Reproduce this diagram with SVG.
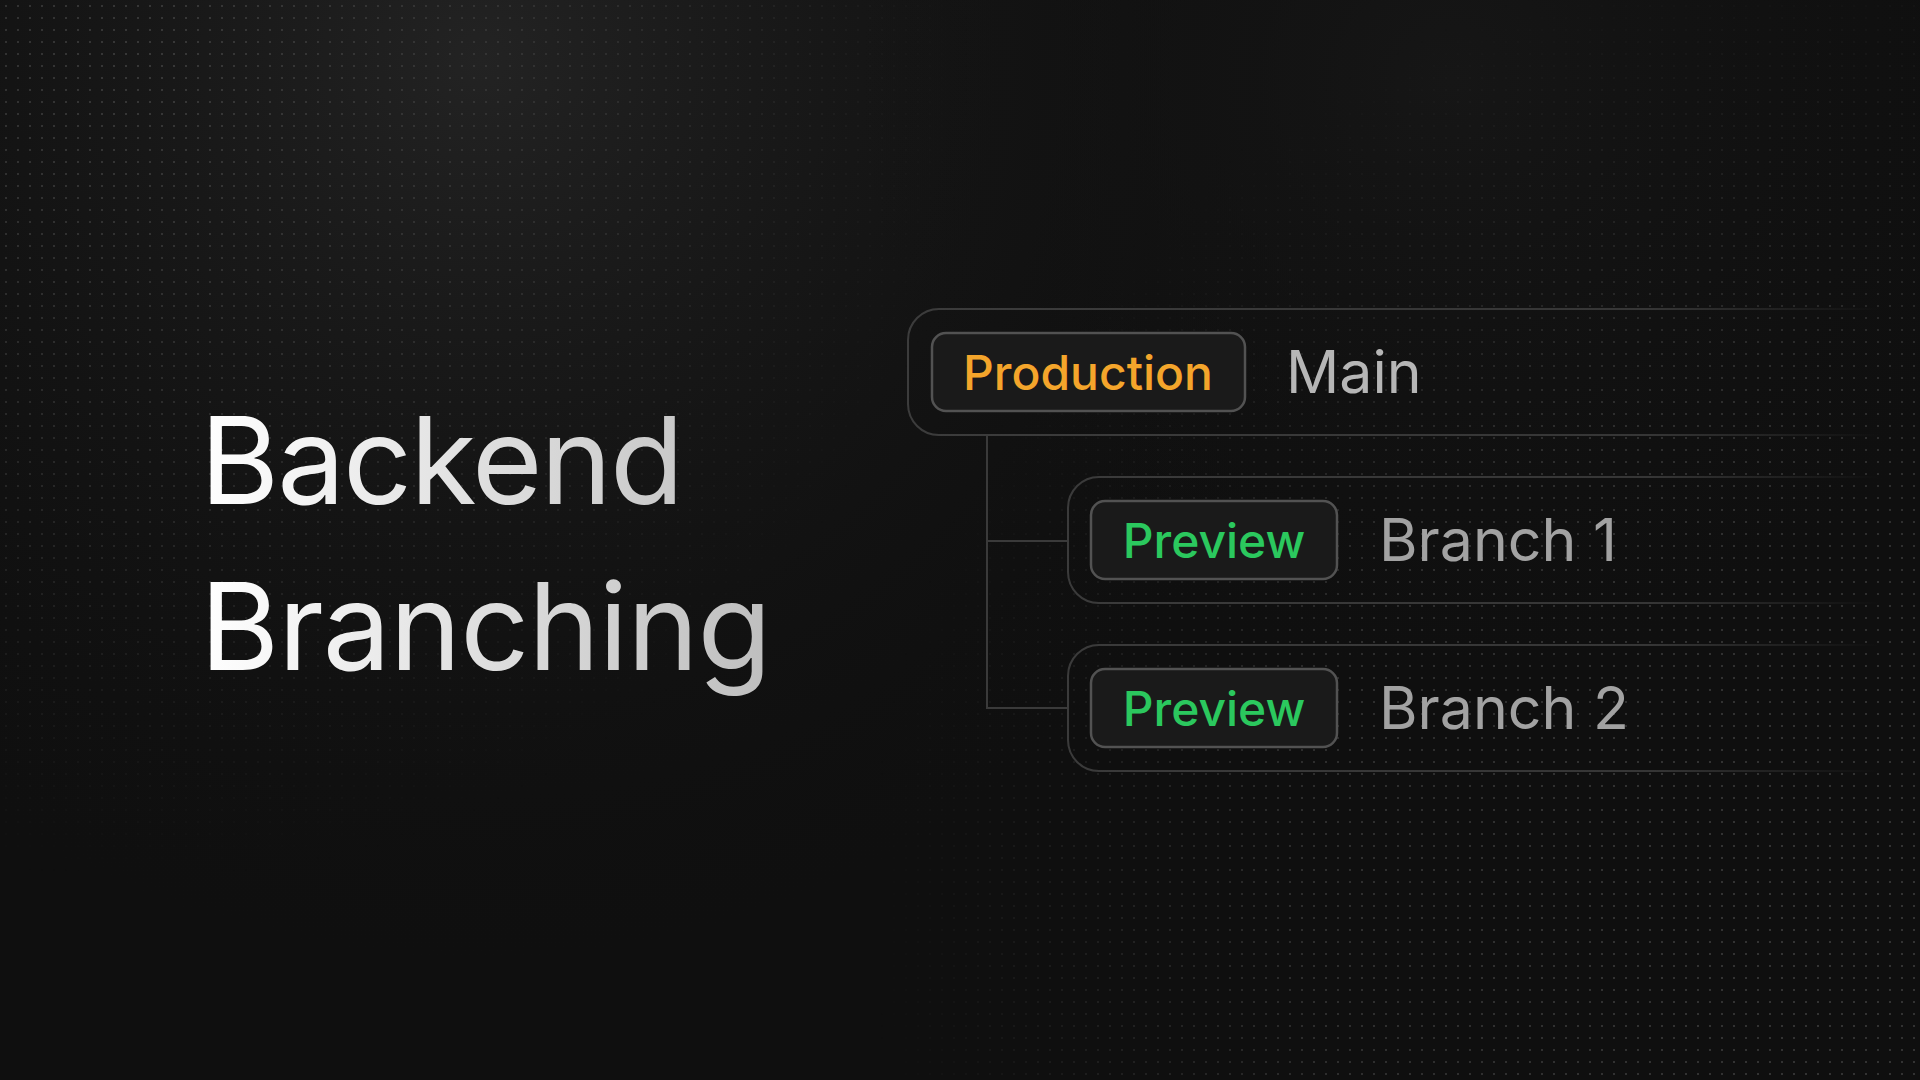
<svg xmlns="http://www.w3.org/2000/svg" width="1920" height="1080" viewBox="0 0 1920 1080">
  <style>
    .ui { font-family: Inter, "Noto Sans", "Liberation Sans", sans-serif; }
    .title { font-size: 121px; font-weight: 400; fill: url(#titleGrad); }
    .t1 { letter-spacing: -2px; }
    .t2 { letter-spacing: -1px; }
    .tag { font-size: 48px; font-weight: 500; text-anchor: middle; }
    .prod { fill: #f4a52b; }
    .prev { fill: #2bc85e; }
    .name { font-size: 59px; font-weight: 400; }
    .main { fill: #b6b6b6; }
    .branch { fill: #a2a2a2; }
    .pill { fill: #1a1a1a; stroke: #525252; stroke-width: 2.5; }
    .frame { fill: none; stroke: url(#lineFade); stroke-width: 2; }
    .conn { fill: none; stroke: #3a3a3a; stroke-width: 2; }
  </style>
  <defs>
    <radialGradient id="glow" cx="480" cy="60" r="900" gradientUnits="userSpaceOnUse">
      <stop offset="0" stop-color="#232323" stop-opacity="1"/>
      <stop offset="0.5" stop-color="#181818" stop-opacity="0.6"/>
      <stop offset="1" stop-color="#111111" stop-opacity="0"/>
    </radialGradient>
    <radialGradient id="glow2" cx="1450" cy="80" r="600" gradientUnits="userSpaceOnUse">
      <stop offset="0" stop-color="#161616" stop-opacity="1"/>
      <stop offset="1" stop-color="#111111" stop-opacity="0"/>
    </radialGradient>
    <linearGradient id="titleGrad" x1="200" y1="0" x2="780" y2="0" gradientUnits="userSpaceOnUse">
      <stop offset="0" stop-color="#ffffff"/>
      <stop offset="1" stop-color="#bdbdbd"/>
    </linearGradient>
    <linearGradient id="lineFade" x1="900" y1="0" x2="1900" y2="0" gradientUnits="userSpaceOnUse">
      <stop offset="0" stop-color="#3c3c3c"/>
      <stop offset="0.75" stop-color="#363636"/>
      <stop offset="0.98" stop-color="#363636" stop-opacity="0"/>
    </linearGradient>
    <pattern id="dots" x="0" y="0" width="12" height="12" patternUnits="userSpaceOnUse">
      <rect x="5.2" y="5.2" width="1.6" height="1.6" fill="#4a4a4a"/>
    </pattern>
    <radialGradient id="mTL" cx="150" cy="60" r="820" gradientUnits="userSpaceOnUse">
      <stop offset="0" stop-color="#fff" stop-opacity="1"/>
      <stop offset="0.6" stop-color="#fff" stop-opacity="0.55"/>
      <stop offset="1" stop-color="#fff" stop-opacity="0"/>
    </radialGradient>
    <radialGradient id="mBR" cx="1820" cy="900" r="950" gradientUnits="userSpaceOnUse">
      <stop offset="0" stop-color="#fff" stop-opacity="1"/>
      <stop offset="0.55" stop-color="#fff" stop-opacity="0.8"/>
      <stop offset="1" stop-color="#fff" stop-opacity="0"/>
    </radialGradient>
    <mask id="dotMask" maskUnits="userSpaceOnUse" x="0" y="0" width="1920" height="1080">
      <rect width="1920" height="1080" fill="#000"/>
      <rect width="1920" height="1080" fill="url(#mTL)"/>
      <rect width="1920" height="1080" fill="url(#mBR)"/>
    </mask>
  </defs>

  <!-- background -->
  <rect width="1920" height="1080" fill="#0f0f0f"/>
  <rect width="1920" height="1080" fill="url(#glow)"/>
  <rect width="1920" height="1080" fill="url(#glow2)"/>
  <rect width="1920" height="1080" fill="url(#dots)" mask="url(#dotMask)"/>

  <!-- title -->
  <g id="title" class="ui">
    <text class="title t1" x="200" y="504">Backend</text>
    <text class="title t2" x="200" y="670">Branching</text>
  </g>

  <!-- connectors -->
  <g id="connectors">
    <path class="conn" d="M987 435 V708 H1068"/>
    <path class="conn" d="M987 541 H1068"/>
  </g>

  <!-- main node -->
  <g id="node-main" class="ui">
    <path class="frame" d="M1900 309 H939 A31 31 0 0 0 908 340 V404 A31 31 0 0 0 939 435 H1900"/>
    <rect class="pill" x="932" y="333" width="313" height="78" rx="14"/>
    <text class="tag prod" x="1088" y="389.5">Production</text>
    <text class="name main" x="1286" y="393">Main</text>
  </g>

  <!-- branch 1 -->
  <g id="node-branch1" class="ui">
    <path class="frame" d="M1900 477 H1099 A31 31 0 0 0 1068 508 V572 A31 31 0 0 0 1099 603 H1900"/>
    <rect class="pill" x="1091" y="501" width="246" height="78" rx="14"/>
    <text class="tag prev" x="1214" y="557.5">Preview</text>
    <text class="name branch" x="1379" y="561">Branch 1</text>
  </g>

  <!-- branch 2 -->
  <g id="node-branch2" class="ui">
    <path class="frame" d="M1900 645 H1099 A31 31 0 0 0 1068 676 V740 A31 31 0 0 0 1099 771 H1900"/>
    <rect class="pill" x="1091" y="669" width="246" height="78" rx="14"/>
    <text class="tag prev" x="1214" y="725.5">Preview</text>
    <text class="name branch" x="1379" y="729">Branch 2</text>
  </g>
</svg>
